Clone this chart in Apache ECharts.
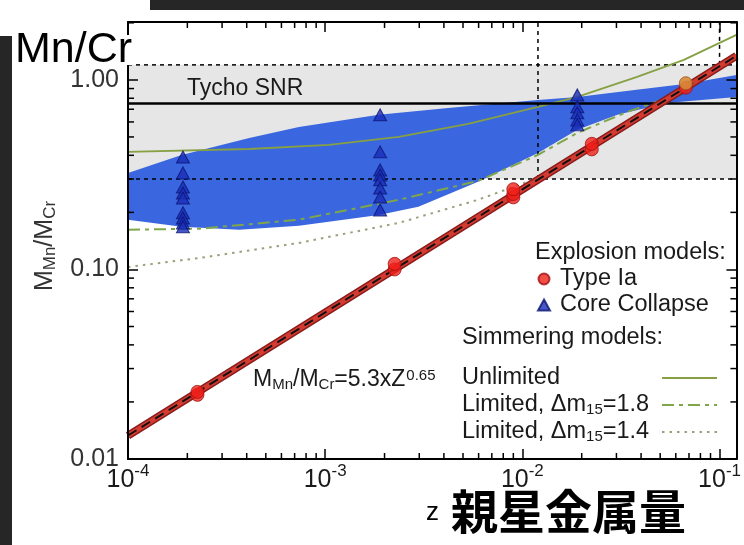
<!DOCTYPE html>
<html>
<head>
<meta charset="utf-8">
<script src="https://cdn.jsdelivr.net/npm/echarts@6.0.0/dist/echarts.min.js"></script>
<style>
html,body{margin:0;padding:0;background:#ffffff;}
#chart{width:744px;height:545px;}
</style>
</head>
<body>
<div id="chart"></div>
<script>
// ---------- axis ranges & tick values ----------
const zRange = [1e-4, 0.1218];
const ratioRange = [0.01, 2.02];
const xMinorTicks = [2e-4,3e-4,4e-4,5e-4,6e-4,7e-4,8e-4,9e-4,
                     2e-3,3e-3,4e-3,5e-3,6e-3,7e-3,8e-3,9e-3,
                     2e-2,3e-2,4e-2,5e-2,6e-2,7e-2,8e-2,9e-2];
const yMinorTicks = [0.02,0.03,0.04,0.05,0.06,0.07,0.08,0.09,
                     0.2,0.3,0.4,0.5,0.6,0.7,0.8,0.9,2];

// ---------- data (Z, M_Mn/M_Cr) ----------
const typeIa = [[2.25e-4,0.0218],[2.25e-4,0.0226],[2.25e-3,0.100],[2.25e-3,0.107],
                [9e-3,0.240],[9e-3,0.250],[9e-3,0.265],[0.0225,0.430],[0.0225,0.460],[0.0675,0.910]];
const typeIaExtra = [[0.0675,0.960]];
const coreCollapse = [[1.9e-4,0.392],[1.9e-4,0.323],[1.9e-4,0.272],[1.9e-4,0.253],[1.9e-4,0.238],
                      [1.9e-4,0.199],[1.9e-4,0.187],[1.9e-4,0.176],[1.9e-4,0.168],
                      [1.9e-3,0.654],[1.9e-3,0.417],[1.9e-3,0.335],[1.9e-3,0.315],[1.9e-3,0.297],
                      [1.9e-3,0.269],[1.9e-3,0.241],[1.9e-3,0.206],
                      [0.019,0.833],[0.019,0.721],[0.019,0.670],[0.019,0.615],[0.019,0.579]];
const fitLine = [[1e-4,0.0133],[0.1218,1.34]];
const simUnlimited = [[1e-4,0.417],[4.12e-4,0.432],[1.045e-3,0.454],[2.36e-3,0.500],[5.31e-3,0.586],
                      [0.012,0.721],[0.019,0.813],[0.0382,1.037],[0.0659,1.275],[0.1218,1.728]];
const simLimited18 = [[1e-4,0.162],[2.31e-4,0.164],[7.36e-4,0.183],[2.36e-3,0.233],[5.96e-3,0.293],
                      [0.012,0.402],[0.019,0.525],[0.034,0.678],[0.051,0.784],[0.1218,1.34]];
const simLimited14 = [[1e-4,0.103],[2.31e-4,0.115],[7.36e-4,0.138],[2.36e-3,0.176],[5.96e-3,0.233],
                      [0.012,0.304],[0.1218,1.34]];
const ccBandUpper = [[1e-4,0.323],[1.87e-4,0.402],[4.12e-4,0.494],[7.36e-4,0.565],[1.87e-3,0.654],
                     [4.2e-3,0.711],[0.012,0.784],[0.019,0.813],[0.038,0.886],[0.068,0.953],[0.1218,1.06]];
const ccBandLower = [[1e-4,0.183],[1.87e-4,0.168],[3.67e-4,0.162],[7.36e-4,0.170],[1.87e-3,0.194],
                     [2.97e-3,0.214],[5.96e-3,0.290],[0.012,0.412],[0.019,0.545],[0.0303,0.654],
                     [0.054,0.756],[0.1218,0.813]];
const tychoRatio = 0.75;
const tychoRange = [0.30, 1.2];
const tychoZ = [0.012, 0.1];

// ---------- styling helpers ----------
const FONT = "'Liberation Sans', Arial, sans-serif";
const TXT = '#1a1a1a';
const GREEN = '#86a043';
const GREEN2 = '#7fa64a';
const GREEN3 = '#9aa07a';

function decadeExp(v) {
  const e = Math.log10(v), r = Math.round(e);
  return Math.abs(e - r) < 1e-6 ? r : null;
}

const bandPolygon = ccBandUpper.concat(ccBandLower.slice().reverse());

function lineSeries(name, data, style, z) {
  return { name: name, type: 'line', data: data, symbol: 'none', showSymbol: false,
           itemStyle: { color: style.color, opacity: 0 },
           lineStyle: style, z: z || 3, silent: true, clip: true };
}

const option = {
  animation: false,
  grid: { left: 128, top: 22, width: 612, height: 437, containLabel: false },
  xAxis: [
    { type: 'log', logBase: 10, min: zRange[0], max: zRange[1], position: 'bottom', z: 10,
      axisLine: { show: true, lineStyle: { color: '#000', width: 2 } },
      axisTick: { show: true, inside: true, length: 10, lineStyle: { color: '#000', width: 1.5 } },
      splitLine: { show: false }, minorTick: { show: false },
      axisLabel: { show: true, margin: 4, showMaxLabel: false,
        formatter: function (v) { const e = decadeExp(v); return e === null ? '' : '{b|10}{s|' + e + '}'; },
        rich: { b: { fontSize: 25, fontFamily: FONT, color: TXT, lineHeight: 30, verticalAlign: 'bottom' },
                s: { fontSize: 17, fontFamily: FONT, color: TXT, lineHeight: 17, verticalAlign: 'top' } } } },
    { type: 'log', logBase: 10, min: zRange[0], max: zRange[1], position: 'top', z: 10,
      axisLine: { show: true, lineStyle: { color: '#000', width: 2 } },
      axisTick: { show: true, inside: true, length: 10, lineStyle: { color: '#000', width: 1.5 } },
      splitLine: { show: false }, axisLabel: { show: false } }
  ],
  yAxis: [
    { type: 'log', logBase: 10, min: ratioRange[0], max: ratioRange[1], position: 'left', z: 10,
      axisLine: { show: true, lineStyle: { color: '#000', width: 2 } },
      axisTick: { show: true, inside: true, length: 10, lineStyle: { color: '#000', width: 1.5 } },
      splitLine: { show: false },
      axisLabel: { show: true, margin: 9, showMaxLabel: false, fontSize: 25, fontFamily: FONT, color: '#333',
        formatter: function (v) { return decadeExp(v) === null ? '' : v.toFixed(2); } } },
    { type: 'log', logBase: 10, min: ratioRange[0], max: ratioRange[1], position: 'right', z: 10,
      axisLine: { show: true, lineStyle: { color: '#000', width: 2 } },
      axisTick: { show: true, inside: true, length: 10, lineStyle: { color: '#000', width: 1.5 } },
      splitLine: { show: false }, axisLabel: { show: false } }
  ],
  legend: [
    { left: 532, top: 262, orient: 'vertical', itemWidth: 12, itemHeight: 11, itemGap: 2,
      selectedMode: false, data: ['Type Ia', 'Core Collapse'],
      textStyle: { fontSize: 23.5, fontFamily: FONT, color: TXT, lineHeight: 22, padding: [0, 0, 0, 5] } },
    { left: 457, top: 355, orient: 'vertical', align: 'right', itemWidth: 55, itemHeight: 14, itemGap: -3,
      selectedMode: false, itemStyle: { opacity: 0 },
      data: ['Unlimited', 'Limited, Δm15=1.8', 'Limited, Δm15=1.4'],
      formatter: function (name) {
        if (name === 'Unlimited') return '{t|Unlimited}{s| }';
        const m = name.match(/^(.*Δm)15(=.*)$/);
        return '{t|' + m[1] + '}{s|15}{t|' + m[2] + '}';
      },
      textStyle: { width: 195, fontSize: 23.5, fontFamily: FONT, color: TXT,
        rich: { t: { fontSize: 23.5, fontFamily: FONT, color: TXT, align: 'left', verticalAlign: 'top', lineHeight: 24 },
                s: { fontSize: 15, fontFamily: FONT, color: TXT, align: 'left', verticalAlign: 'bottom', lineHeight: 15, padding: [15, 0, 0, 0] } } } }
  ],
  graphic: [
    { type: 'rect', shape: { x: 0, y: 36, width: 12, height: 509 }, style: { fill: '#262626' }, z: 100 },
    { type: 'rect', shape: { x: 150, y: 0, width: 594, height: 10 }, style: { fill: '#262626' }, z: 100 },
    { type: 'text', x: 13, y: 50, z: 100,
      style: { text: 'Mn/Cr', font: "43px 'Liberation Sans', Arial, sans-serif", fill: '#000',
               verticalAlign: 'middle', align: 'left', backgroundColor: '#fff', padding: [0, 0, 0, 2], lineHeight: 30 } },
    { type: 'text', x: 187, y: 89, z: 100,
      style: { text: 'Tycho SNR', font: "23px 'Liberation Sans', Arial, sans-serif", fill: TXT, verticalAlign: 'middle' } },
    { type: 'text', x: 535, y: 253, z: 100,
      style: { text: 'Explosion models:', font: "23.5px 'Liberation Sans', Arial, sans-serif", fill: TXT, verticalAlign: 'middle' } },
    { type: 'text', x: 462, y: 338, z: 100,
      style: { text: 'Simmering models:', font: "23.5px 'Liberation Sans', Arial, sans-serif", fill: TXT, verticalAlign: 'middle' } },
    { type: 'text', x: 253, y: 380, z: 100,
      style: { text: '{m|M}{sb|Mn}{m|/M}{sb|Cr}{m|=5.3xZ}{sp|0.65}', verticalAlign: 'middle', fill: TXT,
        rich: { m: { fontSize: 23, fontFamily: FONT, fill: TXT, verticalAlign: 'top', lineHeight: 24 },
                sb: { fontSize: 15, fontFamily: FONT, fill: TXT, verticalAlign: 'bottom', lineHeight: 15, padding: [15, 0, 0, 0] },
                sp: { fontSize: 15, fontFamily: FONT, fill: TXT, verticalAlign: 'top', lineHeight: 15, padding: [0, 0, 0, 1] } } } },
    { type: 'text', x: 46, y: 246, rotation: Math.PI / 2, z: 100,
      style: { text: '{m|M}{sb|Mn}{m|/M}{sb|Cr}', align: 'center', verticalAlign: 'middle', fill: '#333',
        rich: { m: { fontSize: 25, fontFamily: FONT, fill: '#333', verticalAlign: 'top', lineHeight: 26 },
                sb: { fontSize: 17, fontFamily: FONT, fill: '#333', verticalAlign: 'bottom', lineHeight: 17, padding: [14, 0, 0, 0] } } } },
    { type: 'text', x: 426, y: 513, z: 100,
      style: { text: 'z', font: "26px 'Liberation Sans', Arial, sans-serif", fill: '#000', verticalAlign: 'middle' } },
    { type: 'text', x: 451, y: 511, z: 100,
      style: { text: '親星金属量', font: "bold 47px 'Noto Sans CJK JP', sans-serif", fill: '#000', verticalAlign: 'middle' } }
  ],
  series: [
    { name: 'tycho-range', type: 'custom', silent: true, z: 1, clip: true,
      data: [[zRange[0], tychoRange[0]], [zRange[1], tychoRange[1]]],
      renderItem: function (params, api) {
        if (params.dataIndex !== 0) return null;
        const p0 = api.coord([zRange[0], tychoRange[0]]);
        const p1 = api.coord([zRange[1], tychoRange[1]]);
        return { type: 'rect', shape: { x: p0[0], y: p1[1], width: p1[0] - p0[0], height: p0[1] - p1[1] },
                 style: { fill: '#e6e6e6' } };
      } },
    { name: 'cc-band', type: 'custom', silent: true, z: 2, clip: true, data: bandPolygon,
      renderItem: function (params, api) {
        if (params.dataIndex !== 0) return null;
        return { type: 'polygon', shape: { points: bandPolygon.map(function (p) { return api.coord(p); }) },
                 style: { fill: '#3a66df' } };
      } },
    lineSeries('tycho-low', [[zRange[0], tychoRange[0]], [zRange[1], tychoRange[0]]], { color: '#000', width: 1.5, type: [4, 4] }, 3),
    lineSeries('tycho-high', [[zRange[0], tychoRange[1]], [zRange[1], tychoRange[1]]], { color: '#000', width: 1.5, type: [4, 4] }, 3),
    lineSeries('z-low', [[tychoZ[0], tychoRange[0]], [tychoZ[0], ratioRange[1]]], { color: '#000', width: 1.5, type: [4, 4] }, 3),
    lineSeries('z-high', [[tychoZ[1], tychoRange[1]], [tychoZ[1], ratioRange[1]]], { color: '#000', width: 1.5, type: [4, 4] }, 3),
    lineSeries('Unlimited', simUnlimited, { color: GREEN, width: 1.8, type: 'solid' }, 4),
    lineSeries('Limited, Δm15=1.8', simLimited18, { color: GREEN2, width: 2, type: [12, 5, 4, 5] }, 4),
    lineSeries('Limited, Δm15=1.4', simLimited14, { color: GREEN3, width: 2, type: [2.5, 5] }, 4),
    lineSeries('tycho', [[zRange[0], tychoRatio], [zRange[1], tychoRatio]], { color: '#000', width: 2.5 }, 5),
    lineSeries('fit-edge', fitLine, { color: '#8a1c1c', width: 8 }, 6),
    lineSeries('fit-core', fitLine, { color: '#d33a30', width: 5 }, 6),
    lineSeries('fit-dash', fitLine, { color: '#111', width: 2, type: [10, 6] }, 6),
    { name: 'Type Ia', type: 'scatter', data: typeIa, symbol: 'circle', symbolSize: 13, z: 7, silent: true,
      itemStyle: { color: '#f0201a', borderColor: '#a01010', borderWidth: 1 } },
    { name: 'Type Ia (extra)', type: 'scatter', data: typeIaExtra, symbol: 'circle', symbolSize: 13, z: 7, silent: true,
      itemStyle: { color: '#d88a3a', borderColor: '#a05a20', borderWidth: 1, opacity: 0.9 } },
    { name: 'Core Collapse', type: 'scatter', data: coreCollapse, symbol: 'triangle', symbolSize: [13, 12], z: 7, silent: true,
      itemStyle: { color: '#1a2db8', borderColor: '#0a1470', borderWidth: 1 } },
    { name: 'x-minor', type: 'custom', silent: true, z: 20, clip: false,
      data: xMinorTicks.map(function (v) { return [v, 1]; }),
      renderItem: function (params, api) {
        const cs = params.coordSys;
        const x = api.coord([api.value(0), 1])[0];
        const st = { stroke: '#000', lineWidth: 1.5 };
        return { type: 'group', children: [
          { type: 'line', shape: { x1: x, y1: cs.y + cs.height, x2: x, y2: cs.y + cs.height - 6 }, style: st },
          { type: 'line', shape: { x1: x, y1: cs.y, x2: x, y2: cs.y + 6 }, style: st } ] };
      } },
    { name: 'y-minor', type: 'custom', silent: true, z: 20, clip: false,
      data: yMinorTicks.map(function (v) { return [1e-3, v]; }),
      renderItem: function (params, api) {
        const cs = params.coordSys;
        const y = api.coord([1e-3, api.value(1)])[1];
        const st = { stroke: '#000', lineWidth: 1.5 };
        return { type: 'group', children: [
          { type: 'line', shape: { x1: cs.x, y1: y, x2: cs.x + 6, y2: y }, style: st },
          { type: 'line', shape: { x1: cs.x + cs.width, y1: y, x2: cs.x + cs.width - 6, y2: y }, style: st } ] };
      } }
  ]
};

const chart = echarts.init(document.getElementById('chart'), null, { renderer: 'canvas' });
chart.setOption(option);
</script>
</body>
</html>
